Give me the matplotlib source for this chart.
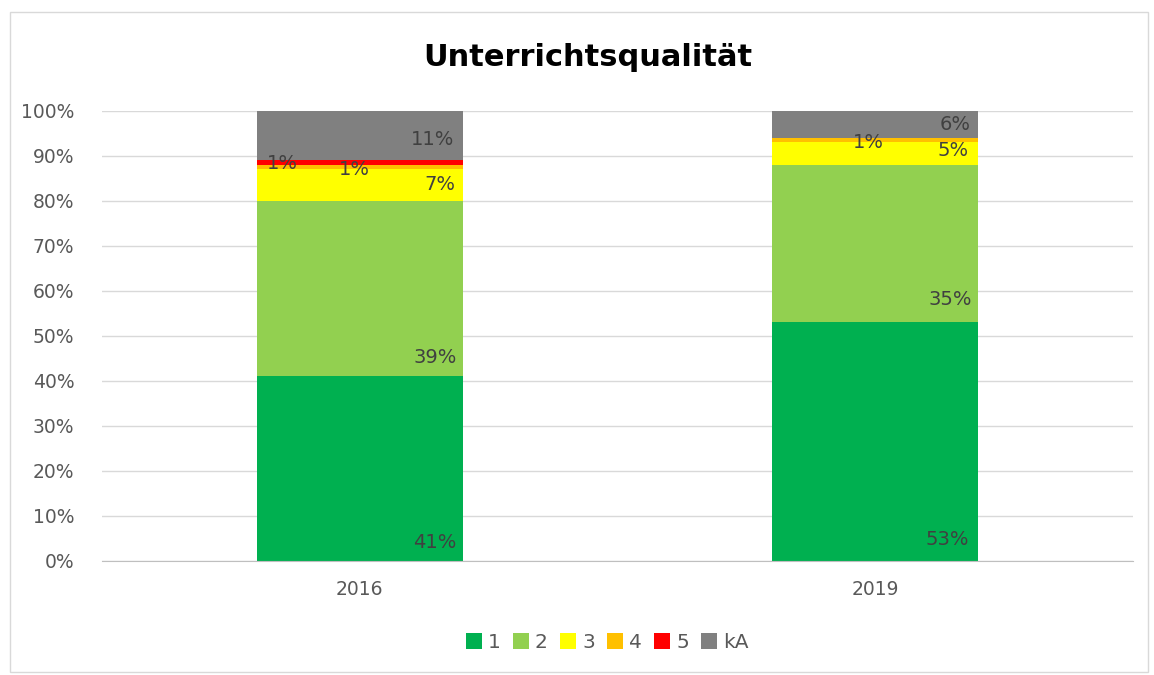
import matplotlib.pyplot as plt
import numpy as np
from matplotlib.patches import Rectangle

# --- Data ---
years = ["2016", "2019"]
series_names = ["1", "2", "3", "4", "5", "kA"]
vals_1 = [41, 53]
vals_2 = [39, 35]
vals_3 = [7, 5]
vals_4 = [1, 1]
vals_5 = [1, 0]
vals_ka = [11, 6]
series_colors = ["#00B050", "#92D050", "#FFFF00", "#FFC000", "#FF0000", "#808080"]

# label texts and where they sit (x offset from bar centre, y in %)
label_texts = [["41%", "39%", "7%", "1%", "1%", "11%"],
               ["53%", "35%", "5%", "1%", None, "6%"]]
label_pos = [[(0.146, 4.0), (0.146, 45.3), (0.155, 83.6), (-0.01, 86.9), (-0.15, 88.4), (0.142, 93.6)],
             [(0.139, 4.7), (0.146, 58.0), (0.151, 91.3), (-0.014, 93.1), None, (0.155, 96.9)]]

fig = plt.figure(figsize=(11.54, 6.75), dpi=100)
ax = fig.add_axes([0.0884, 0.1689, 0.8934, 0.6667])

# outer frame
fig.patches.append(Rectangle((0.009, 0.004), 0.986, 0.978, transform=fig.transFigure,
                             fill=False, edgecolor="#d9d9d9", linewidth=1))

x = np.arange(len(years))
data = [vals_1, vals_2, vals_3, vals_4, vals_5, vals_ka]
bottom = np.zeros(len(years))
for name, vals, col in zip(series_names, data, series_colors):
    ax.bar(x, vals, width=0.4, bottom=bottom, color=col, label=name, zorder=2)
    bottom += np.array(vals)

for i in range(len(years)):
    for txt, pos in zip(label_texts[i], label_pos[i]):
        if txt is None:
            continue
        ax.text(x[i] + pos[0], pos[1], txt, ha="center", va="center",
                fontsize=14, color="#404040", zorder=3)

ax.set_xlim(-0.5, 1.5)
ax.set_ylim(0, 100)
ax.set_yticks(np.arange(0, 101, 10))
ax.set_yticklabels([f"{v}%" for v in range(0, 101, 10)])
ax.set_xticks(x)
ax.set_xticklabels(years)
ax.tick_params(length=0, labelsize=13.5, colors="#595959")
ax.tick_params(axis="x", pad=14)
ax.tick_params(axis="y", pad=20)
ax.grid(axis="y", color="#d9d9d9", linewidth=1, zorder=0)
ax.set_axisbelow(True)
for s in ["left", "right", "top"]:
    ax.spines[s].set_visible(False)
ax.spines["bottom"].set_color("#bfbfbf")

fig.text(0.509, 0.915, "Unterrichtsqualität", ha="center", va="center",
         fontsize=22, fontweight="bold", color="black")

leg = ax.legend(loc="upper center", bbox_to_anchor=(0.49, -0.12), ncol=6, frameon=False,
                fontsize=14.5, handlelength=0.8, handleheight=0.8, handletextpad=0.3,
                columnspacing=0.6, labelcolor="#595959")

fig.savefig("out.png", dpi=100)
